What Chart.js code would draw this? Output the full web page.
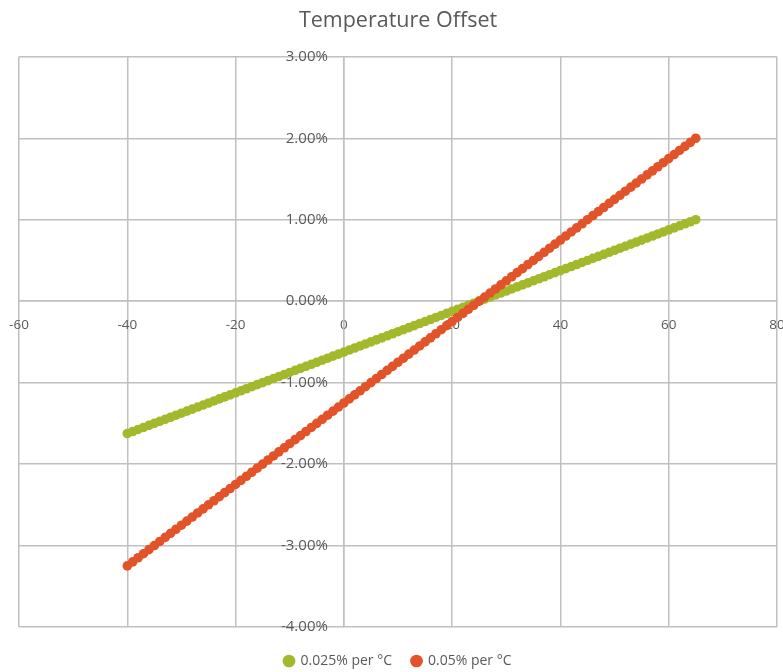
<!DOCTYPE html>
<html>
<head>
<meta charset="utf-8">
<title>Temperature Offset</title>
<script src="https://cdn.jsdelivr.net/npm/chart.js@4/dist/chart.umd.min.js"></script>
<style>
  html, body { margin: 0; padding: 0; background: #ffffff; }
  #wrap { width: 783px; height: 672px; }
</style>
</head>
<body>
<div id="wrap"><canvas id="c" width="783" height="672"></canvas></div>
<script>
// Temperatures (°C) at which the offset is evaluated
const temperatures = [
  -40, -39, -38, -37, -36, -35, -34, -33, -32, -31,
  -30, -29, -28, -27, -26, -25, -24, -23, -22, -21,
  -20, -19, -18, -17, -16, -15, -14, -13, -12, -11,
  -10, -9, -8, -7, -6, -5, -4, -3, -2, -1,
  0, 1, 2, 3, 4, 5, 6, 7, 8, 9,
  10, 11, 12, 13, 14, 15, 16, 17, 18, 19,
  20, 21, 22, 23, 24, 25, 26, 27, 28, 29,
  30, 31, 32, 33, 34, 35, 36, 37, 38, 39,
  40, 41, 42, 43, 44, 45, 46, 47, 48, 49,
  50, 51, 52, 53, 54, 55, 56, 57, 58, 59,
  60, 61, 62, 63, 64, 65
];

// Offset in percent for a 0.025 %/°C coefficient
const offset025 = [
  -1.625, -1.6, -1.575, -1.55, -1.525, -1.5, -1.475, -1.45, -1.425, -1.4,
  -1.375, -1.35, -1.325, -1.3, -1.275, -1.25, -1.225, -1.2, -1.175, -1.15,
  -1.125, -1.1, -1.075, -1.05, -1.025, -1, -0.975, -0.95, -0.925, -0.9,
  -0.875, -0.85, -0.825, -0.8, -0.775, -0.75, -0.725, -0.7, -0.675, -0.65,
  -0.625, -0.6, -0.575, -0.55, -0.525, -0.5, -0.475, -0.45, -0.425, -0.4,
  -0.375, -0.35, -0.325, -0.3, -0.275, -0.25, -0.225, -0.2, -0.175, -0.15,
  -0.125, -0.1, -0.075, -0.05, -0.025, 0, 0.025, 0.05, 0.075, 0.1,
  0.125, 0.15, 0.175, 0.2, 0.225, 0.25, 0.275, 0.3, 0.325, 0.35,
  0.375, 0.4, 0.425, 0.45, 0.475, 0.5, 0.525, 0.55, 0.575, 0.6,
  0.625, 0.65, 0.675, 0.7, 0.725, 0.75, 0.775, 0.8, 0.825, 0.85,
  0.875, 0.9, 0.925, 0.95, 0.975, 1
];

// Offset in percent for a 0.05 %/°C coefficient
const offset05 = [
  -3.25, -3.2, -3.15, -3.1, -3.05, -3, -2.95, -2.9, -2.85, -2.8,
  -2.75, -2.7, -2.65, -2.6, -2.55, -2.5, -2.45, -2.4, -2.35, -2.3,
  -2.25, -2.2, -2.15, -2.1, -2.05, -2, -1.95, -1.9, -1.85, -1.8,
  -1.75, -1.7, -1.65, -1.6, -1.55, -1.5, -1.45, -1.4, -1.35, -1.3,
  -1.25, -1.2, -1.15, -1.1, -1.05, -1, -0.95, -0.9, -0.85, -0.8,
  -0.75, -0.7, -0.65, -0.6, -0.55, -0.5, -0.45, -0.4, -0.35, -0.3,
  -0.25, -0.2, -0.15, -0.1, -0.05, 0, 0.05, 0.1, 0.15, 0.2,
  0.25, 0.3, 0.35, 0.4, 0.45, 0.5, 0.55, 0.6, 0.65, 0.7,
  0.75, 0.8, 0.85, 0.9, 0.95, 1, 1.05, 1.1, 1.15, 1.2,
  1.25, 1.3, 1.35, 1.4, 1.45, 1.5, 1.55, 1.6, 1.65, 1.7,
  1.75, 1.8, 1.85, 1.9, 1.95, 2
];

const seriesNames = ['0.025% per °C', '0.05% per °C'];
const xTicks = [-60, -40, -20, 0, 20, 40, 60, 80];
const yTicks = [-4, -3, -2, -1, 0, 1, 2, 3];

const GREEN = '#a3b92b';
const RED = '#e2532a';
const GRID = '#c0c0c0';
const TEXT = '#595959';
const FONT = "'Open Sans', sans-serif";

const toPoints = (ys) => temperatures.map((t, i) => ({ x: t, y: ys[i] }));

// Center-positioned axes must not reserve room for their edge labels
const noEdgePadding = (scale) => {
  scale.paddingLeft = 0; scale.paddingRight = 0;
  scale.paddingTop = 0; scale.paddingBottom = 0;
};

// Keep the y labels clear of the vertical axis line, and drop the legend a little lower
const labelGap = {
  id: 'labelGap',
  afterLayout(chart) {
    const lg = chart.legend;
    if (lg) { lg.top += 7; lg.bottom += 7; }
  },
  beforeDraw(chart) {
    const y = chart.scales.y;
    const items = y.getLabelItems();
    items.forEach(it => {
      if (!it._shifted) { it.options.translation[0] -= 16; it._shifted = true; }
    });
  }
};

new Chart(document.getElementById('c'), {
  type: 'scatter',
  data: {
    datasets: [
      {
        label: seriesNames[0],
        data: toPoints(offset025),
        backgroundColor: GREEN,
        borderColor: GREEN,
        pointRadius: 4.8,
        pointBorderWidth: 0,
        pointHoverRadius: 4.8,
        order: 2
      },
      {
        label: seriesNames[1],
        data: toPoints(offset05),
        backgroundColor: RED,
        borderColor: RED,
        pointRadius: 4.8,
        pointBorderWidth: 0,
        pointHoverRadius: 4.8,
        order: 1
      }
    ]
  },
  plugins: [labelGap],
  options: {
    responsive: false,
    animation: false,
    devicePixelRatio: 1,
    layout: { padding: { left: 19, right: 6, top: 0, bottom: 1 } },
    plugins: {
      title: {
        display: true,
        text: 'Temperature Offset',
        color: TEXT,
        font: { family: FONT, size: 21.5, weight: 'normal' },
        padding: { top: 8, bottom: 23 }
      },
      legend: {
        position: 'bottom',
        labels: {
          color: TEXT,
          font: { family: FONT, size: 14 },
          usePointStyle: true,
          pointStyle: 'circle',
          boxWidth: 9,
          boxHeight: 9,
          padding: 20,
          sort: (a, b) => a.datasetIndex - b.datasetIndex
        }
      },
      tooltip: { enabled: false }
    },
    scales: {
      x: {
        type: 'linear',
        position: { y: 0 },
        min: xTicks[0],
        max: xTicks[xTicks.length - 1],
        afterBuildTicks: (scale) => { scale.ticks = xTicks.map(v => ({ value: v })); },
        afterFit: noEdgePadding,
        grid: { color: GRID, lineWidth: 1.5, drawTicks: false },
        border: { color: GRID, width: 1.5 },
        ticks: {
          color: TEXT,
          font: { family: FONT, size: 13.5 },
          padding: 16,
          maxRotation: 0,
          autoSkip: false,
          callback: (v) => String(v)
        }
      },
      y: {
        type: 'linear',
        position: { x: 0 },
        min: yTicks[0],
        max: yTicks[yTicks.length - 1],
        afterBuildTicks: (scale) => { scale.ticks = yTicks.map(v => ({ value: v })); },
        afterFit: noEdgePadding,
        grid: { color: GRID, lineWidth: 1.5, drawTicks: false },
        border: { color: GRID, width: 1.5 },
        ticks: {
          color: TEXT,
          font: { family: FONT, size: 15 },
          autoSkip: false,
          callback: (v) => v.toFixed(2) + '%'
        }
      }
    }
  }
});
</script>
</body>
</html>
